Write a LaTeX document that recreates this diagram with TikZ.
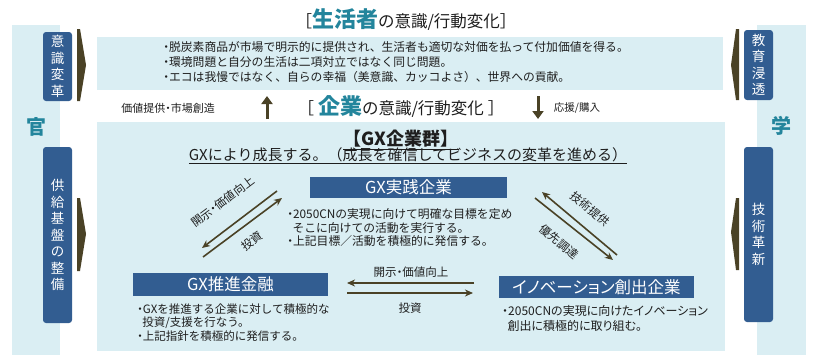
\documentclass[tikz,border=0pt]{standalone}
\usepackage{fontspec}
\usepackage{xcolor}
\setmainfont{Noto Sans CJK JP}
\newfontfamily\propfont{Noto Sans CJK JP}[RawFeature=+palt]
\usetikzlibrary{arrows.meta}
\definecolor{panelblue}{RGB}{218,238,243}
\definecolor{tagblue}{RGB}{50,93,145}
\definecolor{keyteal}{RGB}{35,133,156}
\definecolor{arrowolive}{RGB}{74,66,38}
\definecolor{bodytext}{RGB}{30,30,30}
\newcommand{\gxdot}{{\propfont ・}}

\tikzset{
  tagbox/.style={rectangle, rounded corners=3pt, fill=tagblue, text=white, minimum width=29pt, inner sep=0pt, align=center, font=\fontsize{13.5}{16.5}\selectfont},
  headbox/.style={rectangle, fill=tagblue, text=white, inner sep=0pt, font=\propfont\fontsize{16.5}{16.5}\selectfont},
  bullettext/.style={anchor=north west, inner sep=0pt, align=left, text=bodytext},
  bigarrow/.style={arrowolive, line width=3pt, -{Triangle[width=11pt,length=8pt]}},
  flowarrow/.style={arrowolive, line width=1.6pt, -{Stealth[length=8pt,width=7pt,inset=2.5pt]}},
  flowlabel/.style={inner sep=0pt, text=bodytext, font=\fontsize{11.5}{12}\selectfont}
}

\begin{document}
\begin{tikzpicture}[x=1pt, y=-1pt]
            \useasboundingbox (0,0) rectangle (817,364);

            % Background panels
            \fill[panelblue] (12,25) rectangle (60,355);
            \fill[panelblue] (757,25) rectangle (806,355);
            \fill[panelblue] (97,37) rectangle (723,90);
            \fill[panelblue] (97,122) rectangle (725,351);

            % Side labels
            \node[text=keyteal, font=\fontsize{20}{20}\selectfont\bfseries] (kan) at (36,127) {官};
            \node[text=keyteal, font=\fontsize{20}{20}\selectfont\bfseries] (gaku) at (781,126) {学};

            % Side tags
            \node[tagbox, minimum height=69pt] (tagmind) at (57.5,66.5) {意\\識\\変\\革};
            \node[tagbox, minimum height=176pt] (tagsupply) at (57.5,235) {供\\給\\基\\盤\\の\\整\\備};
            \node[tagbox, minimum height=70pt] (tagedu) at (758.5,65) {教\\育\\浸\\透};
            \node[tagbox, minimum height=175pt] (tagtech) at (758.5,234.5) {技\\術\\革\\新};

            % Wedges beside the tags
            \fill[arrowolive] (77,29) -- (80,29) -- (86,65) -- (80,101) -- (77,101) -- cycle;
            \fill[arrowolive] (77,198) -- (80,198) -- (86,234) -- (80,271) -- (77,271) -- cycle;
            \fill[arrowolive] (739,29) -- (736,29) -- (731,65) -- (736,100) -- (739,100) -- cycle;
            \fill[arrowolive] (739,198) -- (736,198) -- (731,232) -- (736,270) -- (739,270) -- cycle;

            % Consumer heading and bullets
            \node[text=bodytext, font=\fontsize{16.5}{18}\selectfont] (consumer) at (406,20) {［\textcolor{keyteal}{\fontsize{22}{22}\selectfont\bfseries 生活者}の意識/行動変化］};
            \node[bullettext, font=\fontsize{11.8}{15}\selectfont] (consumerlist) at (163,41) {\gxdot 脱炭素商品が市場で明示的に提供され、生活者も適切な対価を払って付加価値を得る。\\
              \gxdot 環境問題と自分の生活は二項対立ではなく同じ問題。\\
              \gxdot エコは我慢ではなく、自らの幸福（美意識、カッコよさ）、世界への貢献。};

            % Middle row
            \node[text=bodytext, font=\fontsize{11}{12}\selectfont] (valuelabel) at (168,108) {価値提供\gxdot 市場創造};
            \node[text=bodytext, font=\fontsize{16.5}{18}\selectfont] (company) at (401,107) {［\hspace{4pt}\textcolor{keyteal}{\fontsize{22}{22}\selectfont\bfseries 企業}の意識/行動変化\hspace{4pt}］};
            \node[text=bodytext, font=\fontsize{10.5}{12}\selectfont] (buylabel) at (577,108) {応援/購入};
            \coordinate (upfoot) at (267,119);
            \coordinate (uphead) at (267,96);
            \coordinate (downfoot) at (538,96);
            \coordinate (downhead) at (538,119);
            \draw[bigarrow] (upfoot) -- (uphead);
            \draw[bigarrow] (downfoot) -- (downhead);

            % GX group heading
            \node[text=bodytext, font=\fontsize{18}{18}\selectfont\bfseries] (group) at (401,140) {\underline{【GX企業群】}};
            \node[text=bodytext, font=\fontsize{15}{15}\selectfont] (growth) at (408,156) {\underline{GXにより成長する。（成長を確信してビジネスの変革を進める）}};

            % Practice companies
            \node[headbox, minimum width=197pt, minimum height=21pt] (practice) at (408.5,187.5) {GX実践企業};
            \node[bullettext, font=\fontsize{11.8}{13.5}\selectfont] (practicelist) at (287,208.5) {\gxdot 2050CNの実現に向けて明確な目標を定め\\
              \hspace{0.45em}そこに向けての活動を実行する。\\
              \gxdot 上記目標／活動を積極的に発信する。};

            % Finance
            \node[headbox, minimum width=195pt, minimum height=23pt] (finance) at (230.5,284.5) {GX推進金融};
            \node[bullettext, font=\fontsize{11.5}{13.5}\selectfont] (financelist) at (137,303.5) {\gxdot GXを推進する企業に対して積極的な\\
              \hspace{0.45em}投資/支援を行なう。\\
              \gxdot 上記指針を積極的に発信する。};

            % Innovation companies
            \node[headbox, minimum width=195pt, minimum height=22pt] (innovation) at (596.5,287) {イノベーション創出企業};
            \node[bullettext, font=\propfont\fontsize{12}{14.5}\selectfont] (innovationlist) at (502,305.5) {・2050CNの実現に向けたイノベーション\\
              \hspace{0.45em}創出に積極的に取り組む。};

            % Arrows between finance and practice
            \coordinate (fpA) at (277,191);
            \coordinate (fpB) at (202,248);
            \coordinate (fpC) at (203,257);
            \coordinate (fpD) at (282,198);
            \draw[flowarrow] (fpA) -- (fpB);
            \draw[flowarrow] (fpC) -- (fpD);
            \node[flowlabel, rotate=37] (fplabel) at (223,202) {開示\gxdot 価値向上};
            \node[flowlabel, rotate=37] (fpinvest) at (252,241) {投資};

            % Arrows between practice and innovation
            \coordinate (piA) at (617,255);
            \coordinate (piB) at (542,192);
            \coordinate (piC) at (535,198);
            \coordinate (piD) at (613,260);
            \draw[flowarrow] (piA) -- (piB);
            \draw[flowarrow] (piC) -- (piD);
            \node[flowlabel, rotate=-40] (pilabel) at (590,209) {技術提供};
            \node[flowlabel, rotate=-40] (piprocure) at (559,242) {優先調達};

            % Arrows between finance and innovation
            \coordinate (fiA) at (474,283);
            \coordinate (fiB) at (347,283);
            \coordinate (fiC) at (347,293);
            \coordinate (fiD) at (473,293);
            \draw[flowarrow] (fiA) -- (fiB);
            \draw[flowarrow] (fiC) -- (fiD);
            \node[flowlabel] (filabel) at (411,272) {開示\gxdot 価値向上};
            \node[flowlabel] (fiinvest) at (410,308) {投資};
        \end{tikzpicture}
\end{document}
